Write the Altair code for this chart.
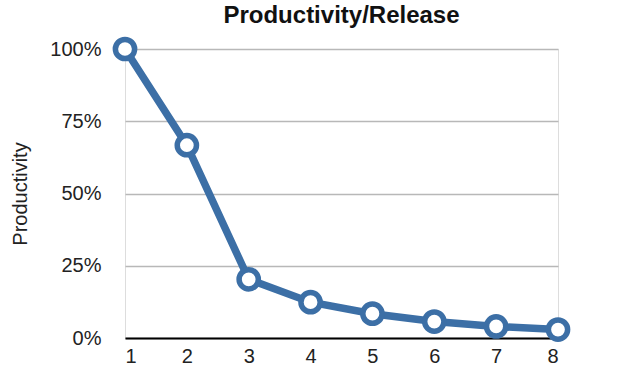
import altair as alt
import pandas as pd

releases = [1, 2, 3, 4, 5, 6, 7, 8]
productivity = [1.0, 0.667, 0.203, 0.124, 0.084, 0.057, 0.040, 0.029]

df = pd.DataFrame({"Release": releases, "Productivity": productivity})

BLUE = "#3c6fa6"
FONT = "Liberation Sans"

x = alt.X("Release:Q",
          scale=alt.Scale(domain=[1, 8], nice=False, zero=False),
          axis=alt.Axis(values=releases, format="d", title=None, grid=False,
                        ticks=False, tickSize=0, labelPadding=8,
                        domainColor="#000000", domainWidth=2,
                        labelFontSize=20, labelColor="#222222", labelFont=FONT))
y = alt.Y("Productivity:Q",
          scale=alt.Scale(domain=[0, 1], nice=False),
          axis=alt.Axis(values=[0, 0.25, 0.5, 0.75, 1], format=".0%",
                        title="Productivity", domain=False, ticks=False,
                        tickSize=0, labelPadding=24, gridColor="#b8b8b8",
                        gridWidth=1.5, labelFontSize=20, labelColor="#222222",
                        labelFont=FONT, titleFont=FONT, titleFontSize=20,
                        titleFontWeight="normal", titleColor="#222222",
                        titleX=-95))

line = alt.Chart(df).mark_line(color=BLUE, strokeWidth=7.5).encode(x=x, y=y)
pts = alt.Chart(df).mark_point(filled=False, fill="white", fillOpacity=1,
                               stroke=BLUE, strokeWidth=5.5, size=370,
                               opacity=1, shape="circle").encode(x=x, y=y)

chart = (line + pts).properties(
    width=433, height=289,
    title=alt.TitleParams("Productivity/Release", font=FONT, fontSize=24,
                          fontWeight="bold", color="#111111", offset=0,
                          anchor="middle"),
    padding={"left": 125, "top": 49, "right": 61, "bottom": 40},
    autosize=alt.AutoSizeParams(type="none"),
).configure_view(
    strokeWidth=0, stroke="transparent"
).configure_axisX(grid=False).configure(background="white")

chart.save("out.html", embed_options={"renderer": "svg", "actions": False})
